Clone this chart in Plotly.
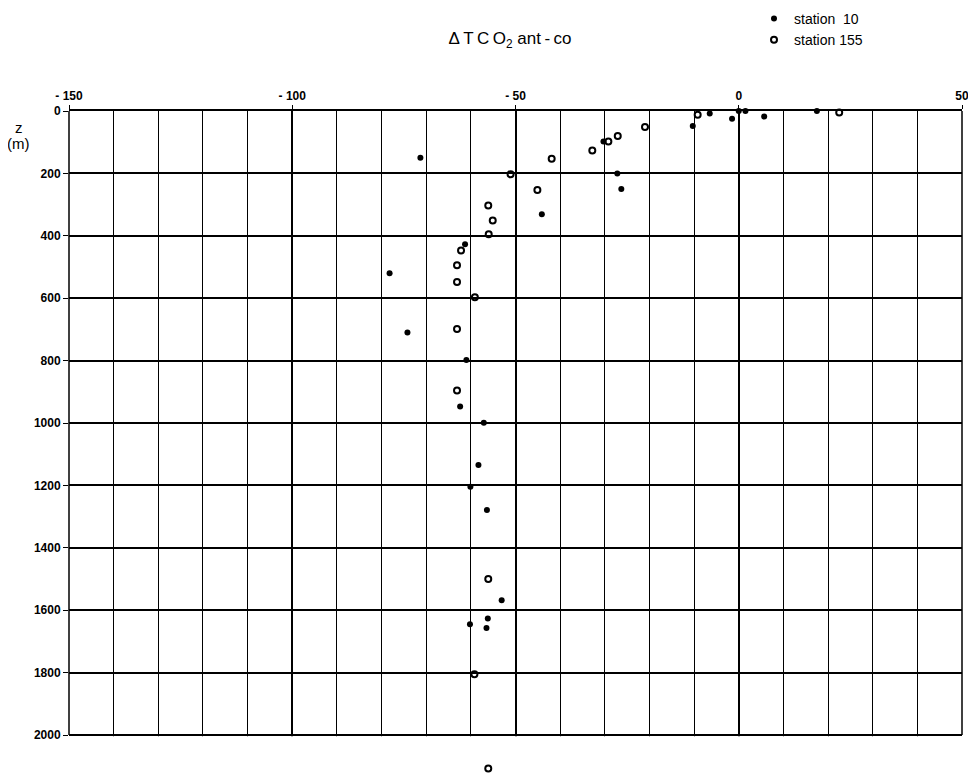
import plotly.graph_objects as go

# Station 10 (filled dots): delta TCO2 ant-co and depth z (m)
st10_dtco2 = [0.0, 1.5, 17.5, -6.5, 5.7, -1.5, -10.3, -30.3, -71.3, -27.2, -26.3,
              -44.1, -61.3, -78.2, -74.2, -61.0, -62.4, -57.1, -58.3, -60.1, -56.4,
              -53.1, -56.2, -60.2, -56.5]
st10_z = [0, 0, 0, 8, 18, 25, 48, 98, 150, 200, 250,
          331, 427, 520, 710, 798, 947, 999, 1135, 1204, 1279,
          1568, 1627, 1645, 1657]

# Station 155 (open circles)
st155_dtco2 = [22.5, -9.2, -21.0, -27.1, -29.2, -32.8, -41.9, -51.1, -45.1, -56.1,
               -55.1, -56.0, -62.2, -63.1, -63.1, -59.1, -63.1, -63.1, -56.1, -59.2,
               -56.1]
st155_z = [5, 12, 51, 80, 98, 127, 153, 203, 253, 303,
           351, 395, 447, 494, 548, 597, 699, 896, 1500, 1805,
           2107]

x_tickvals = [-150, -100, -50, 0, 50]
x_ticktext = ["- 150", "- 100", "- 50", "0", "50"]
y_tickvals = [0, 200, 400, 600, 800, 1000, 1200, 1400, 1600, 1800, 2000]
X_MIN, X_MAX = -150, 50
Z_GRID_MAX = 2000      # bottom of the drawn grid
Z_AXIS_MAX = 2125      # axis extends a little below the grid so the deepest point shows

FONT = "Liberation Sans, Arial, Helvetica, sans-serif"

# page has an 8px body margin; figure is sized so the plot area sits at
# x 69..962, y 111..774 of the 976x775 window (grid ends at 735)
W, H = 968, 767
L, R, T, B = 61, 14, 103, 1
PX0, PY0, PW, PH = 69, 111, 893, 663


def px(xp):
    return (xp - PX0) / PW


def py(yp):
    return 1 - (yp - PY0) / PH


grid_bottom = 1 - Z_GRID_MAX / Z_AXIS_MAX   # paper y of the 2000 m line

fig = go.Figure()
fig.add_trace(go.Scatter(
    x=st10_dtco2, y=st10_z, mode="markers", name="station  10",
    marker=dict(symbol="circle", size=6, color="black"),
    cliponaxis=False,
))
fig.add_trace(go.Scatter(
    x=st155_dtco2, y=st155_z, mode="markers", name="station 155",
    marker=dict(symbol="circle-open", size=6, color="black", line=dict(width=2, color="black")),
    cliponaxis=False,
))

# blank out the grid below the 2000 m line (drawn between grid and markers)
fig.add_shape(type="rect", xref="x", yref="y", layer="between",
              x0=X_MIN - 2, x1=X_MAX + 2, y0=Z_GRID_MAX + 4, y1=Z_AXIS_MAX + 5,
              fillcolor="white", line=dict(width=0))
# left and right frame lines of the grid
for xe in (0, 1):
    fig.add_shape(type="line", xref="paper", yref="paper", layer="below",
                  x0=xe, x1=xe, y0=grid_bottom, y1=1,
                  line=dict(color="black", width=1.5))

fig.update_layout(
    width=W, height=H,
    margin=dict(l=L, r=R, t=T, b=B, autoexpand=False),
    paper_bgcolor="white", plot_bgcolor="white",
    font=dict(family=FONT, color="black", size=12),
    title=dict(text="Δ\u2009T\u2009C\u2009O<sub>2</sub> ant\u2009-\u2009co",
               x=(510 - 8) / W, xref="container", y=1 - (38 - 8) / H, yref="container",
               xanchor="center", yanchor="middle",
               font=dict(size=17, family=FONT, color="black")),
    legend=dict(x=px(754), y=py(3), xanchor="left", yanchor="top",
                font=dict(size=14, family=FONT), bgcolor="rgba(0,0,0,0)",
                tracegroupgap=0, itemwidth=30),
    showlegend=True,
)

fig.update_xaxes(
    side="top", range=[X_MIN, X_MAX], tickvals=x_tickvals, ticktext=x_ticktext,
    showgrid=True, gridcolor="black", gridwidth=1.5,
    minor=dict(dtick=10, tick0=-150, showgrid=True, gridcolor="black", gridwidth=1.2),
    showline=True, linecolor="black", linewidth=1.5, mirror=False,
    ticks="outside", ticklen=4, tickcolor="black", automargin=False,
    tickfont=dict(size=12, family=FONT, weight="bold"), zeroline=False,
)
fig.update_yaxes(
    range=[Z_AXIS_MAX, 0], tickvals=y_tickvals,
    showgrid=True, gridcolor="black", gridwidth=1.5,
    showline=False,
    ticks="outside", ticklen=5, tickcolor="black", automargin=False,
    tickfont=dict(size=12, family=FONT, weight="bold"), zeroline=False,
)

fig.add_annotation(text="z", xref="paper", yref="paper",
                   x=px(19), y=py(127), xanchor="center", yanchor="middle",
                   showarrow=False, font=dict(size=15, family=FONT, color="black"))
fig.add_annotation(text="(m)", xref="paper", yref="paper",
                   x=px(18), y=py(143), xanchor="center", yanchor="middle",
                   showarrow=False, font=dict(size=15, family=FONT, color="black"))

fig.write_html("out.html")
